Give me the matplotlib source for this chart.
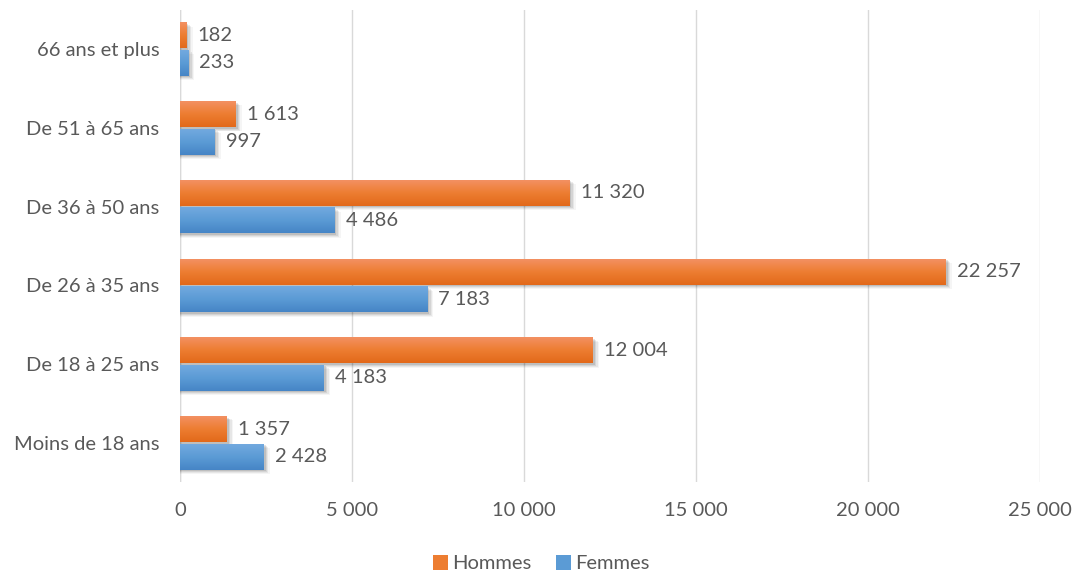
import matplotlib
matplotlib.use("Agg")
import matplotlib.pyplot as plt
import numpy as np
from matplotlib.colors import LinearSegmentedColormap
from matplotlib.patches import Rectangle, Patch

categories = ["Moins de 18 ans", "De 18 à 25 ans", "De 26 à 35 ans",
              "De 36 à 50 ans", "De 51 à 65 ans", "66 ans et plus"]
hommes = [1357, 12004, 22257, 11320, 1613, 182]
femmes = [2428, 4183, 7183, 4486, 997, 233]
xticks = [0, 5000, 10000, 15000, 20000, 25000]

def fmt(v):
    return f"{v:,}".replace(",", " ")

plt.rcParams['font.family'] = ['Lato', 'DejaVu Sans']
text_col = "#595959"
fs = 14.5

fig = plt.figure(figsize=(10.72, 5.74), dpi=100)
ax = fig.add_axes([0.168, 0.160, 0.802, 0.823])

bar_h = 0.33
gap = 0.02
y = np.arange(len(categories))

orange_cmap = LinearSegmentedColormap.from_list("o", ["#F39062", "#ED7D31", "#E2691A"])
blue_cmap = LinearSegmentedColormap.from_list("b", ["#72A9DF", "#5B9BD5", "#4685C6"])
grad = np.linspace(0, 1, 64).reshape(-1, 1)

def draw_bar(x, yc, h, cmap):
    y0, y1 = yc - h / 2, yc + h / 2
    # soft shadow
    for i, a in enumerate([0.10, 0.08, 0.06, 0.04]):
        d = 60 + i * 40
        dy = 0.02 + i * 0.012
        ax.add_patch(Rectangle((0, y0 - dy), x + d, h, facecolor="black",
                               alpha=a, edgecolor="none", zorder=2))
    ax.imshow(grad, extent=[0, x, y0, y1], aspect="auto", cmap=cmap,
              origin="upper", zorder=3, interpolation="bilinear")

for i in range(len(categories)):
    yc_h = y[i] + gap / 2 + bar_h / 2
    yc_f = y[i] - gap / 2 - bar_h / 2
    draw_bar(hommes[i], yc_h, bar_h, orange_cmap)
    draw_bar(femmes[i], yc_f, bar_h, blue_cmap)
    ax.text(hommes[i] + 330, yc_h, fmt(hommes[i]), va="center", ha="left",
            fontsize=fs, color=text_col, zorder=5)
    ax.text(femmes[i] + 330, yc_f, fmt(femmes[i]), va="center", ha="left",
            fontsize=fs, color=text_col, zorder=5)

ax.set_xlim(0, 25000)
ax.set_ylim(-0.5, len(categories) - 0.5)
ax.set_xticks(xticks)
ax.set_xticklabels([fmt(t) for t in xticks])
ax.set_yticks(y)
ax.set_yticklabels(categories)
ax.tick_params(axis="both", length=0, labelsize=fs, colors=text_col)
ax.tick_params(axis="x", pad=14)
ax.tick_params(axis="y", pad=15)
ax.xaxis.grid(True, color="#D9D9D9", linewidth=1)
ax.set_axisbelow(True)
for s in ax.spines.values():
    s.set_visible(False)
ax.axvline(0, color="#D9D9D9", linewidth=1, zorder=1)

handles = [Patch(facecolor="#ED7D31", label="Hommes"),
           Patch(facecolor="#5B9BD5", label="Femmes")]
leg = fig.legend(handles=handles, loc="center", bbox_to_anchor=(0.505, 0.018),
                 ncol=2, frameon=False, fontsize=fs, handlelength=0.75,
                 handleheight=0.75, handletextpad=0.2, columnspacing=1.2)
for t in leg.get_texts():
    t.set_color(text_col)

fig.savefig("out.png", dpi=100, facecolor="white")
